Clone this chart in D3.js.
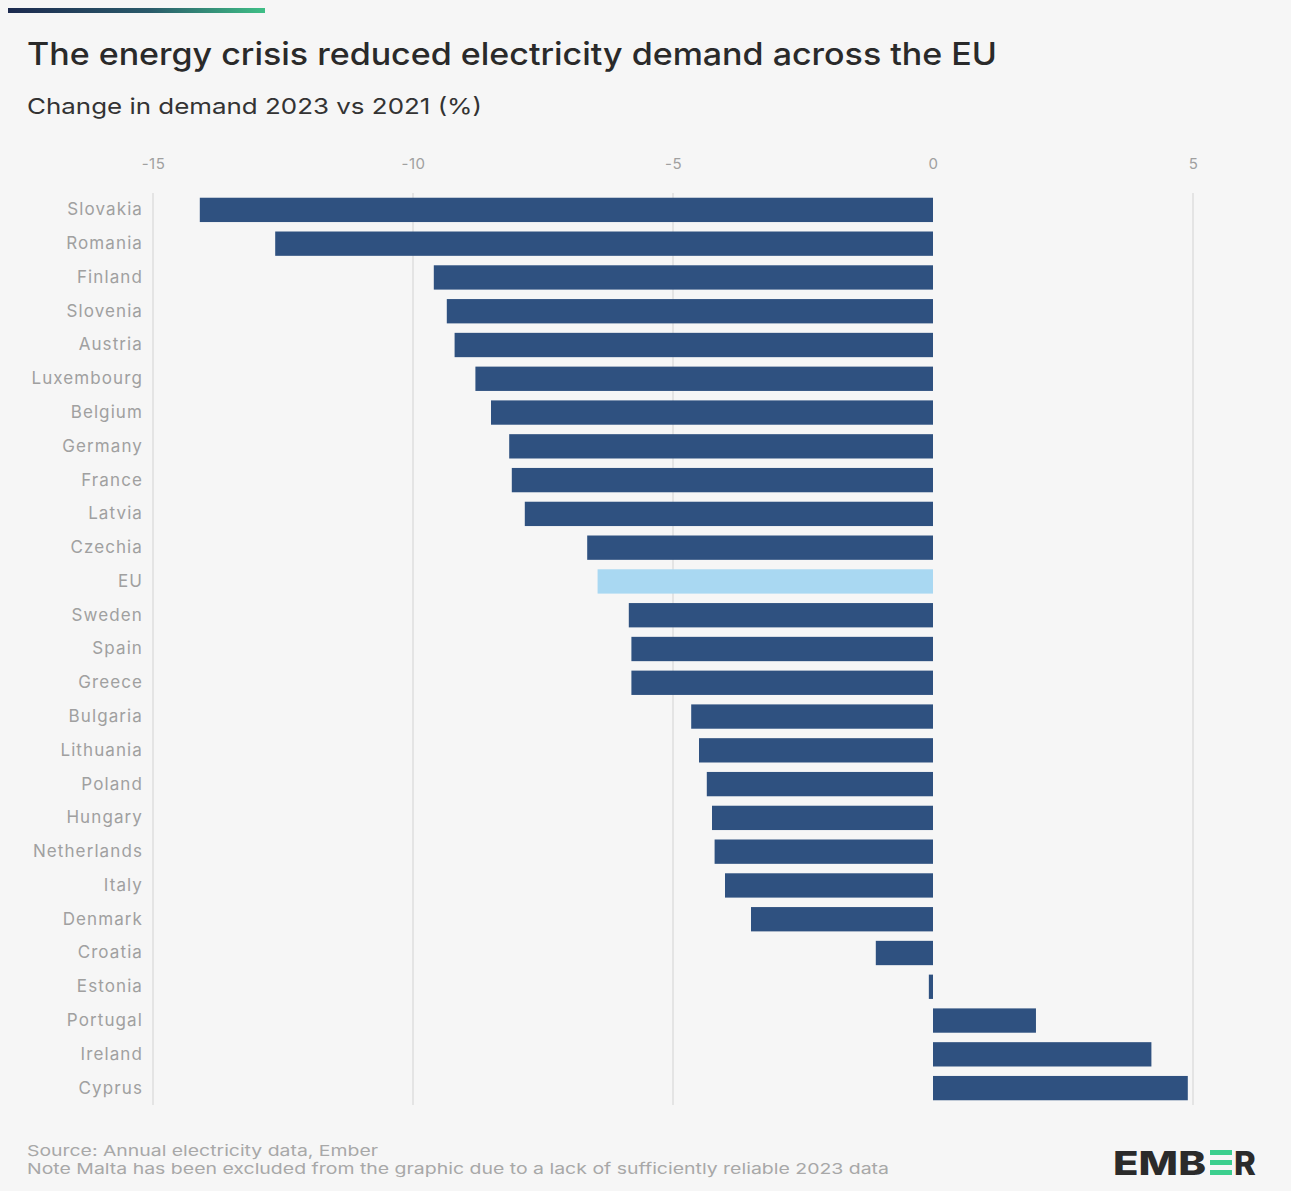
<!DOCTYPE html>
<html>
<head>
<meta charset="utf-8">
<script src="https://cdn.jsdelivr.net/npm/d3@7"></script>
<style>
  html, body { margin: 0; padding: 0; background: #f6f6f6; }
  svg { display: block; font-family: Inter, "Noto Sans", sans-serif; }
</style>
</head>
<body>
<svg id="chart" width="1291" height="1191"></svg>
<script>
const countries = ["Slovakia","Romania","Finland","Slovenia","Austria","Luxembourg","Belgium","Germany","France","Latvia","Czechia","EU","Sweden","Spain","Greece","Bulgaria","Lithuania","Poland","Hungary","Netherlands","Italy","Denmark","Croatia","Estonia","Portugal","Ireland","Cyprus"];
const changes = [-14.1,-12.65,-9.6,-9.35,-9.2,-8.8,-8.5,-8.15,-8.1,-7.85,-6.65,-6.45,-5.85,-5.8,-5.8,-4.65,-4.5,-4.35,-4.25,-4.2,-4.0,-3.5,-1.1,-0.08,1.98,4.2,4.9];
const highlighted = ["EU"];
const tickValues = [-15,-10,-5,0,5];
const titleText = "The energy crisis reduced electricity demand across the EU";
const subtitleText = "Change in demand 2023 vs 2021 (%)";
const sourceLines = ["Source: Annual electricity data, Ember","Note Malta has been excluded from the graphic due to a lack of sufficiently reliable 2023 data"];

const data = countries.map((c,i)=>({country:c, value:changes[i]}));
const svg = d3.select("#chart");
svg.append("rect").attr("width",1291).attr("height",1191).attr("fill","#f6f6f6");

// top gradient bar
const defs = svg.append("defs");
const grad = defs.append("linearGradient").attr("id","topgrad");
grad.append("stop").attr("offset","0%").attr("stop-color","#1c2a4f");
grad.append("stop").attr("offset","55%").attr("stop-color","#2a5a6a");
grad.append("stop").attr("offset","100%").attr("stop-color","#3fbf86");
svg.append("rect").attr("x",8).attr("y",8).attr("width",257).attr("height",5).attr("fill","url(#topgrad)");

svg.append("text").attr("x",27).attr("y",65).attr("font-size",31).attr("font-weight",500)
  .attr("fill","#2a2a2a").attr("textLength",970).attr("lengthAdjust","spacingAndGlyphs").text(titleText);
svg.append("text").attr("x",27).attr("y",114).attr("font-size",22).attr("font-weight",400)
  .attr("fill","#333").attr("textLength",455).attr("lengthAdjust","spacingAndGlyphs").text(subtitleText);

const x = d3.scaleLinear().domain([-15,5]).range([153,1193]);
const y = d3.scaleBand().domain(countries).range([193,1105]).paddingInner(0.28).paddingOuter(0.14);

// gridlines
svg.append("g").selectAll("line").data(tickValues.filter(v=>v!==0)).join("line")
  .attr("x1",d=>x(d)).attr("x2",d=>x(d)).attr("y1",193).attr("y2",1105)
  .attr("stroke","#dedede").attr("stroke-width",1.5);

// top axis
const axis = d3.axisTop(x).tickValues(tickValues).tickSize(0).tickFormat(d=>d3.format("")(d).replace("−","-"));
const ag = svg.append("g").attr("transform","translate(0,172)").call(axis);
ag.select(".domain").remove();
ag.selectAll("text").attr("font-size",15).attr("fill","#a0a0a0").attr("letter-spacing",0.5).attr("font-family","Inter, 'Noto Sans', sans-serif");

// bars
svg.append("g").selectAll("rect").data(data).join("rect")
  .attr("x",d=>x(Math.min(0,d.value)))
  .attr("width",d=>Math.max(2,Math.abs(x(d.value)-x(0))))
  .attr("y",d=>y(d.country)).attr("height",y.bandwidth())
  .attr("fill",d=>highlighted.includes(d.country)?"#a9d8f2":"#2f5180");

// y labels
const yAxis = d3.axisLeft(y).tickSize(0).tickPadding(0);
const yg = svg.append("g").attr("transform","translate(143,0)").call(yAxis);
yg.select(".domain").remove();
yg.selectAll("text").attr("font-size",17).attr("fill","#a0a0a0").attr("letter-spacing",1.1).attr("font-family","Inter, 'Noto Sans', sans-serif");

// footer
const footLens = [351, 862];
svg.append("g").selectAll("text").data(sourceLines).join("text")
  .attr("x",27).attr("y",(d,i)=>1156+i*18).attr("font-size",15).attr("fill","#a8a8a8")
  .attr("textLength",(d,i)=>footLens[i]).attr("lengthAdjust","spacingAndGlyphs").text(d=>d);

// logo
const logo = svg.append("g").attr("transform","translate(1113,1175)");
logo.append("text").attr("x",0).attr("y",0).attr("font-size",33).attr("font-weight",800).attr("fill","#2b2b2b")
  .attr("textLength",93).attr("lengthAdjust","spacingAndGlyphs").text("EMB");
[0,1,2].forEach(i=>logo.append("rect").attr("x",97).attr("y",-25+i*10).attr("width",22).attr("height",5).attr("fill","#3ccf8e"));
logo.append("text").attr("x",121).attr("y",0).attr("font-size",33).attr("font-weight",800).attr("fill","#2b2b2b").text("R");
</script>
</body>
</html>
